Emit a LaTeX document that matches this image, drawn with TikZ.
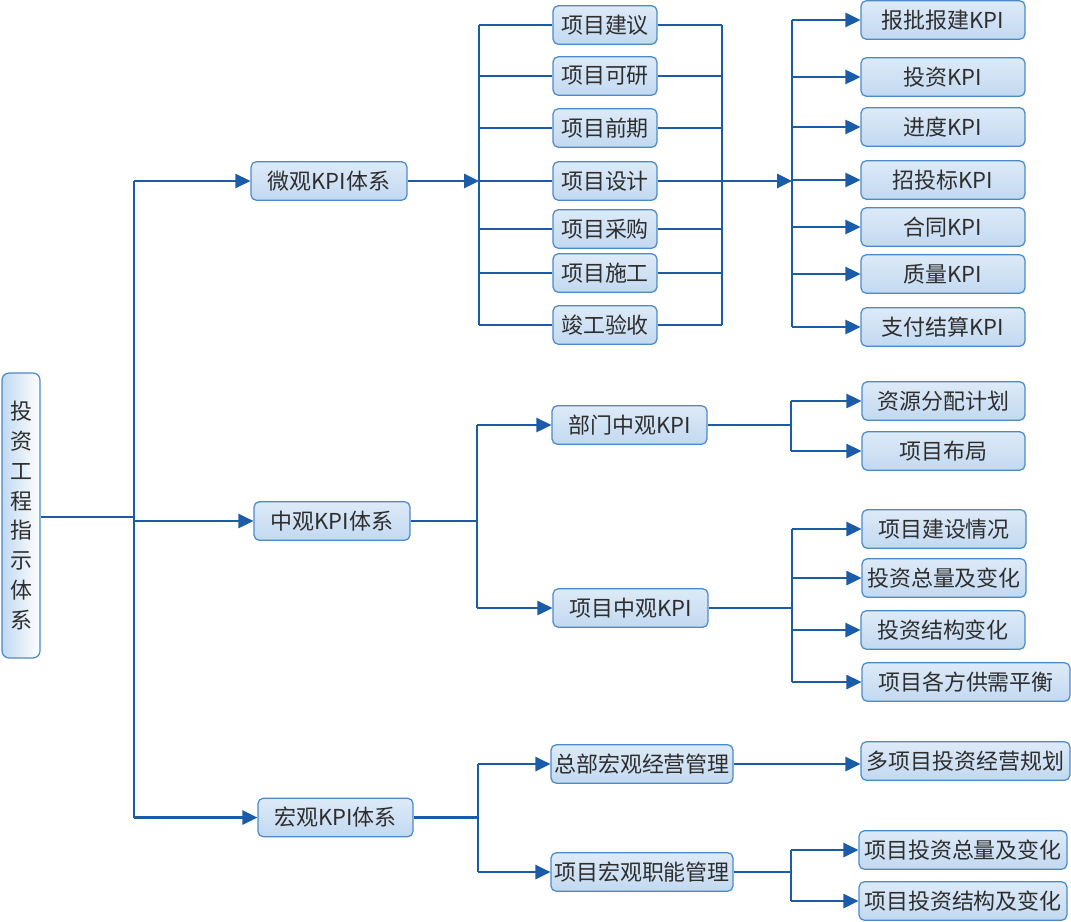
\documentclass[tikz,border=0pt]{standalone}
\usepackage{fontspec}
\newfontfamily\cjk{Noto Sans CJK SC}
\usetikzlibrary{arrows.meta}

\definecolor{linkblue}{HTML}{1A5CA8}
\definecolor{boxedge}{HTML}{4A8AC9}
\definecolor{boxfill}{HTML}{C2D9F1}
\definecolor{textgray}{HTML}{2E2E2E}

\begin{document}
\begin{tikzpicture}[
    x=0.02cm, y=-0.02cm,
    font=\cjk\fontsize{12.5}{17}\selectfont,
    text=textgray,
    box/.style={
        draw=boxedge,
        rounded corners=3pt,
        top color=boxfill!55,
        middle color=white,
        bottom color=boxfill,
        minimum height=0.77cm,
        inner sep=1pt,
        align=center,
        line width=0.7pt
    },
    rootbox/.style={
        draw=boxedge,
        rounded corners=4pt,
        left color=boxfill,
        right color=white,
        minimum width=0.76cm,
        minimum height=5.7cm,
        align=center,
        line width=0.7pt
    },
    line/.style={
        draw=linkblue,
        line width=1.4pt
    },
    arrow/.style={
        line,
        -{Triangle[length=8.5pt,width=8pt]}
    }
]
\useasboundingbox (0,0) rectangle (1071,922);

% root
\node[rootbox] (root) at (21,515.5) {投\\资\\工\\程\\指\\示\\体\\系};

% first level
\node[box, minimum width=3.12cm] (micro) at (329,181) {微观KPI体系};
\node[box, minimum width=3.12cm] (meso) at (332,521) {中观KPI体系};
\node[box, minimum width=3.10cm] (macro) at (335.5,817.5) {宏观KPI体系};

% micro: stages
\node[box, minimum width=2.08cm] (stage1) at (605,25) {项目建议};
\node[box, minimum width=2.08cm] (stage2) at (605,76) {项目可研};
\node[box, minimum width=2.08cm] (stage3) at (605,128) {项目前期};
\node[box, minimum width=2.08cm] (stage4) at (605,181) {项目设计};
\node[box, minimum width=2.08cm] (stage5) at (605,229) {项目采购};
\node[box, minimum width=2.08cm] (stage6) at (605,273) {项目施工};
\node[box, minimum width=2.08cm] (stage7) at (605,325) {竣工验收};

% micro: kpis
\node[box, minimum width=3.28cm] (kpi1) at (943,20) {报批报建KPI};
\node[box, minimum width=3.28cm] (kpi2) at (943,77) {投资KPI};
\node[box, minimum width=3.28cm] (kpi3) at (943,127) {进度KPI};
\node[box, minimum width=3.28cm] (kpi4) at (943,180) {招投标KPI};
\node[box, minimum width=3.28cm] (kpi5) at (943,227) {合同KPI};
\node[box, minimum width=3.28cm] (kpi6) at (943,274) {质量KPI};
\node[box, minimum width=3.28cm] (kpi7) at (943,327) {支付结算KPI};

% meso
\node[box, minimum width=3.10cm] (dept) at (629.5,425) {部门中观KPI};
\node[box, minimum width=3.10cm] (proj) at (630.5,608) {项目中观KPI};
\node[box, minimum width=3.26cm] (res) at (943.5,401) {资源分配计划};
\node[box, minimum width=3.26cm] (layout) at (943.5,451) {项目布局};
\node[box, minimum width=3.28cm] (build) at (944,529) {项目建设情况};
\node[box, minimum width=3.28cm] (total) at (944,578) {投资总量及变化};
\node[box, minimum width=3.28cm] (struct) at (943,630) {投资结构变化};
\node[box, minimum width=4.16cm] (balance) at (966,682) {项目各方供需平衡};

% macro
\node[box, minimum width=3.64cm] (hq) at (642,764) {总部宏观经营管理};
\node[box, minimum width=3.64cm] (func) at (642,872) {项目宏观职能管理};
\node[box, minimum width=4.18cm] (plan) at (965.5,761) {多项目投资经营规划};
\node[box, minimum width=4.16cm] (ptotal) at (963,850) {项目投资总量及变化};
\node[box, minimum width=4.16cm] (pstruct) at (963,901) {项目投资结构及变化};

% junctions
\coordinate (trunk) at (134,517);
\coordinate (stagebus) at (479,181);
\coordinate (stageout) at (722,181);
\coordinate (kpibus) at (792,181);
\coordinate (mesobus) at (477,521);
\coordinate (deptbus) at (791,425);
\coordinate (projbus) at (792,608);
\coordinate (macrobus) at (478,817.5);
\coordinate (funcbus) at (791,872);

% trunk
\draw[line] (root.east |- trunk) -- (trunk);
\draw[line] (trunk |- micro) -- (trunk |- macro);
\draw[arrow] (trunk |- micro) -- (micro);
\draw[arrow] (trunk |- meso) -- (meso);
\draw[arrow] (trunk |- macro) -- (macro);

% micro
\draw[arrow] (micro) -- (stagebus);
\draw[line] (stagebus |- stage1) -- (stagebus |- stage7);
\draw[line] (stagebus |- stage1) -- (stage1);
\draw[line] (stagebus |- stage2) -- (stage2);
\draw[line] (stagebus |- stage3) -- (stage3);
\draw[line] (stagebus |- stage4) -- (stage4);
\draw[line] (stagebus |- stage5) -- (stage5);
\draw[line] (stagebus |- stage6) -- (stage6);
\draw[line] (stagebus |- stage7) -- (stage7);
\draw[line] (stage1) -- (stageout |- stage1);
\draw[line] (stage2) -- (stageout |- stage2);
\draw[line] (stage3) -- (stageout |- stage3);
\draw[line] (stage4) -- (stageout);
\draw[line] (stage5) -- (stageout |- stage5);
\draw[line] (stage6) -- (stageout |- stage6);
\draw[line] (stage7) -- (stageout |- stage7);
\draw[line] (stageout |- stage1) -- (stageout |- stage7);
\draw[arrow] (stageout) -- (kpibus);
\draw[line] (kpibus |- kpi1) -- (kpibus |- kpi7);
\draw[arrow] (kpibus |- kpi1) -- (kpi1);
\draw[arrow] (kpibus |- kpi2) -- (kpi2);
\draw[arrow] (kpibus |- kpi3) -- (kpi3);
\draw[arrow] (kpibus |- kpi4) -- (kpi4);
\draw[arrow] (kpibus |- kpi5) -- (kpi5);
\draw[arrow] (kpibus |- kpi6) -- (kpi6);
\draw[arrow] (kpibus |- kpi7) -- (kpi7);

% meso
\draw[line] (meso) -- (mesobus);
\draw[line] (mesobus |- dept) -- (mesobus |- proj);
\draw[arrow] (mesobus |- dept) -- (dept);
\draw[arrow] (mesobus |- proj) -- (proj);
\draw[line] (dept) -- (deptbus);
\draw[line] (deptbus |- res) -- (deptbus |- layout);
\draw[arrow] (deptbus |- res) -- (res);
\draw[arrow] (deptbus |- layout) -- (layout);
\draw[line] (proj) -- (projbus);
\draw[line] (projbus |- build) -- (projbus |- balance);
\draw[arrow] (projbus |- build) -- (build);
\draw[arrow] (projbus |- total) -- (total);
\draw[arrow] (projbus |- struct) -- (struct);
\draw[arrow] (projbus |- balance) -- (balance);

% macro
\draw[line] (macro) -- (macrobus);
\draw[line] (macrobus |- hq) -- (macrobus |- func);
\draw[arrow] (macrobus |- hq) -- (hq);
\draw[arrow] (macrobus |- func) -- (func);
\draw[arrow] (hq) -- (hq -| plan.west);
\draw[line] (func) -- (funcbus);
\draw[line] (funcbus |- ptotal) -- (funcbus |- pstruct);
\draw[arrow] (funcbus |- ptotal) -- (ptotal);
\draw[arrow] (funcbus |- pstruct) -- (pstruct);

\end{tikzpicture}
\end{document}
